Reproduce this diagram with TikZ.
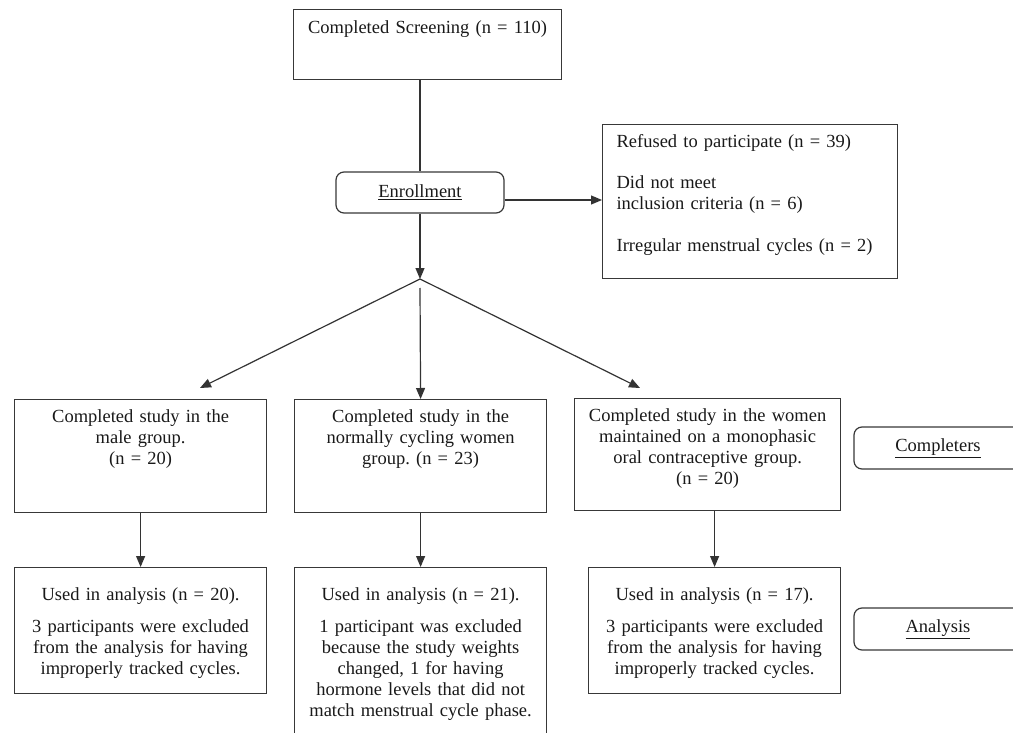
\documentclass[tikz,border=0pt]{standalone}
\usepackage{fontspec}
\setmainfont{Liberation Serif}
\usetikzlibrary{arrows.meta}
\frenchspacing
\begin{document}
\begin{tikzpicture}[x=1pt,y=-1pt,
  every node/.style={font=\fontsize{18.5}{21}\selectfont, text=black!90},
  box/.style={draw=black!78, line width=1.2pt, inner xsep=0pt, inner ysep=0pt,
    align=center, anchor=north west},
  rbox/.style={draw=black!78, line width=1.2pt, rounded corners=8pt, inner sep=0pt,
    minimum width=168pt, minimum height=42pt},
  conn/.style={draw=black!80, line width=1.2pt},
  arr/.style={conn, -{Triangle[length=11pt,width=9pt]}}
]
\useasboundingbox (0,0) rectangle (1013,733);

% top
\node[box, text width=268pt, text height=24pt, text depth=46pt] (screen) at (293,9)
  {Completed Screening (n = 110)};
\node[rbox, minimum height=41pt] (enroll) at (420,192.5) {\underline{Enrollment}};
\node[box, align=left, inner xsep=14pt, text width=267pt, text height=23pt, text depth=131pt] (refused) at (602,124)
  {Refused to participate (n = 39)\\[20pt]Did not meet\\inclusion criteria (n = 6)\\[21pt]Irregular menstrual cycles (n = 2)};

% completers row
\node[box, text width=252pt, text height=23pt, text depth=90pt] (b1) at (14,399)
  {Completed study in the\\male group.\\(n = 20)};
\node[box, text width=252pt, text height=23pt, text depth=90pt] (b2) at (294,399)
  {Completed study in the\\normally cycling women\\group. (n = 23)};
\node[box, text width=266pt, text height=23pt, text depth=89pt] (b3) at (574,398)
  {Completed study in the women\\maintained on a monophasic\\oral contraceptive group.\\(n = 20)};
\node[rbox] (compl) at (938,448) {\underline{Completers}};

% analysis row
\node[box, text width=252pt, text height=33pt, text depth=93pt] (c1) at (14,567)
  {Used in analysis (n = 20).\\[11pt]3 participants were excluded\\from the analysis for having\\improperly tracked cycles.};
\node[box, text width=252pt, text height=33pt, text depth=140pt] (c2) at (294,567)
  {Used in analysis (n = 21).\\[11pt]1 participant was excluded\\because the study weights\\changed, 1 for having\\hormone levels that did not\\match menstrual cycle phase.};
\node[box, text width=252pt, text height=33pt, text depth=93pt] (c3) at (588,567)
  {Used in analysis (n = 17).\\[11pt]3 participants were excluded\\from the analysis for having\\improperly tracked cycles.};
\node[rbox] (anal) at (938,629) {\underline{Analysis}};

% connectors
\coordinate (br) at (420,279);
\coordinate (mt) at (420,288);
\coordinate (lt) at (200,388);
\coordinate (rt) at (640,388);

\draw[conn] (enroll.north |- screen.south) -- (enroll.north);
\draw[arr] ([yshift=-7.5pt]enroll.east) -- ([yshift=-7.5pt]enroll.east -| refused.west);
\draw[arr] (enroll.south) -- (br);
\draw[arr] (br) -- (lt);
\draw[arr] (br) -- (rt);
\draw[arr] (mt) -- (b2.north);
\draw[arr] (b1.south) -- (c1.north);
\draw[arr] (b2.south) -- (c2.north);
\draw[arr] (c3.north |- b3.south) -- (c3.north);
\end{tikzpicture}
\end{document}
